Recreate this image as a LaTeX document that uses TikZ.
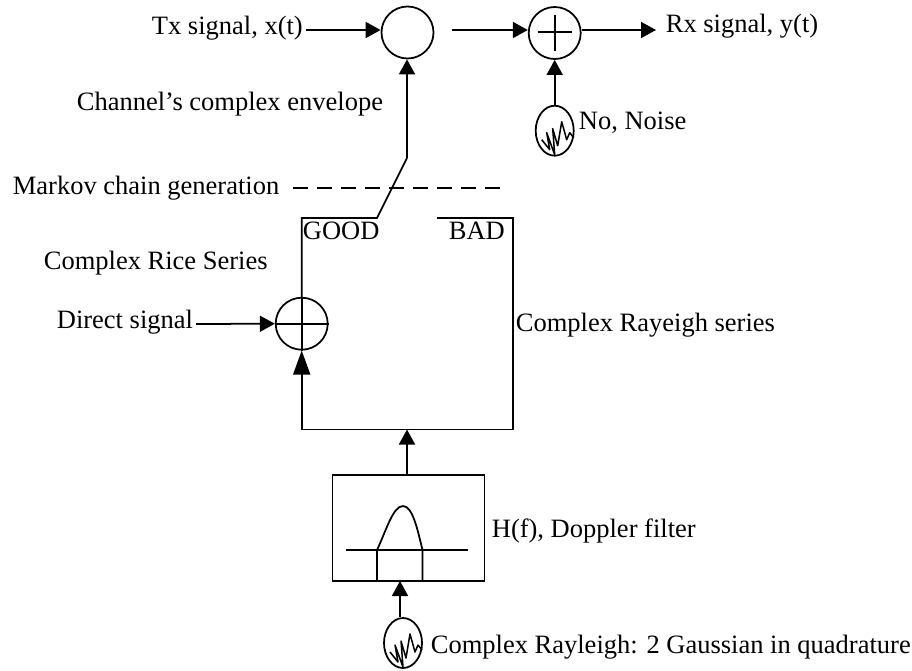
\documentclass[tikz,border=0pt]{standalone}
\usepackage{fontspec}
\setmainfont{Liberation Serif}
\usetikzlibrary{arrows.meta,shapes.geometric,calc}
\tikzset{
  every path/.style={line width=1.75pt},
  lbl/.style={inner sep=0pt,anchor=base west,font=\fontsize{26.5}{28}\selectfont},
  circ/.style={draw,circle,minimum size=52pt,inner sep=0pt},
  noise/.style={draw,ellipse,minimum width=38pt,minimum height=50pt,inner sep=0pt},
  arr/.style={-{Triangle[length=15pt,width=16pt]}},
  arrl/.style={-{Triangle[length=24pt,width=17pt]}},
  sq/.style={line width=1.5pt,line join=round}
}
\newcommand{\squig}[1]{\draw[sq] ($(#1)+(-13,9)$) -- ($(#1)+(-5,19)$) -- ($(#1)+(-8,2)$) -- ($(#1)+(0,24)$) -- ($(#1)+(-2,-2)$) -- ($(#1)+(3,15)$) -- ($(#1)+(7,-9)$) -- ($(#1)+(12,9)$) -- ($(#1)+(15,2)$) -- ($(#1)+(19,7)$);}
\begin{document}
\begin{tikzpicture}[x=1pt,y=-1pt]
\useasboundingbox (0,0) rectangle (912,670);
\node[circ] (mix) at (407.5,32.5) {};
\node[circ] (add) at (554.7,33) {};
\node[noise] (n1) at (554.7,130.7) {};
\node[circ] (sum) at (301.7,323.7) {};
\node[noise] (n2) at (403,643) {};
\node[draw,minimum width=152pt,minimum height=106pt,inner sep=0pt,anchor=north west] (filt) at (331.7,474) {};

\node[lbl] (tx) at (151,34) {Tx signal, x(t)};
\node[lbl] (rx) at (665,32) {Rx signal, y(t)};
\node[lbl] (env) at (76,110.5) {Channel’s complex envelope};
\node[lbl] (no) at (578,129.5) {No, Noise};
\node[lbl] (mk) at (12,194.5) {Markov chain generation};
\node[lbl] (good) at (302,239) {GOOD};
\node[lbl] (bad) at (448,239) {BAD};
\node[lbl] (rice) at (43,269) {Complex Rice Series};
\node[lbl] (dir) at (56,328.5) {Direct signal};
\node[lbl] (ray) at (515,331) {Complex Rayeigh series};
\node[lbl] (hf) at (491,537) {H(f), Doppler filter};
\node[lbl] (cr) at (430,653.5) {Complex Rayleigh: 2 Gaussian in quadrature};

\coordinate (mo) at (452,30);
\coordinate (rxe) at (656,30);
\coordinate (txs) at (306,30);
\coordinate (ds) at (196,324);
\coordinate (k1) at (407,158);
\coordinate (k2) at (377,218);
\coordinate (tl) at (301.7,218);
\coordinate (bl) at (437,218);
\coordinate (tr) at (513,218);
\coordinate (br) at (513,429.5);
\coordinate (bb) at (301.7,429.5);
\coordinate (bm) at (407,429.5);
\coordinate (dl) at (293,188);
\coordinate (dr) at (501,188);

\draw[arr] (txs) -- (mix.west |- txs);
\draw[arr] (mo) -- (add.west |- mo);
\draw[arr] (add.east |- rxe) -- (rxe);
\draw[arr] (n1.north) -- (add.south);
\draw[arr] (k1) -- (k1 |- mix.south);
\draw (k1) -- (k2) -- (tl) -- (sum.north);
\draw (bl) -- (tr) -- (br) -- (bb);
\draw[arrl] (bb) -- (sum.south);
\draw[arr] (ds) -- (sum.west);
\draw[arr] (filt.north -| bm) -- (bm);
\draw[arr] (n2.north -| 400,0) -- (400,581);
\draw[dash pattern=on 15pt off 9pt] (dl) -- (dr);

% crosses
\draw (sum.west) -- (sum.east);
\draw (sum.north) -- (sum.south);
\draw ($(add)+(-17,-1)$) -- ($(add)+(17,-1)$);
\draw ($(add)+(0,-18)$) -- ($(add)+(0,18)$);

% noise squiggles
\squig{n1}
\squig{n2}

% Doppler filter
\draw (346,550) -- (468,550);
\draw (377,580) -- (377,550) .. controls (386,531) and (393,506) .. (403,506) .. controls (413,506) and (418,532) .. (422.5,550) -- (422.5,580);
\end{tikzpicture}
\end{document}
